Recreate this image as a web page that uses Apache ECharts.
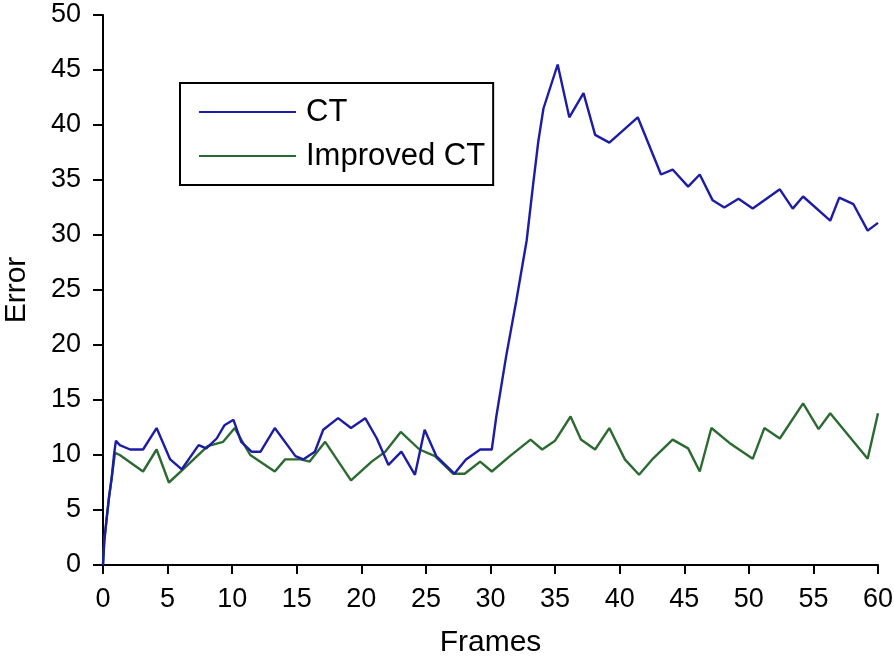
<!DOCTYPE html>
<html>
<head>
<meta charset="utf-8">
<script src="https://cdn.jsdelivr.net/npm/echarts@6/dist/echarts.min.js"></script>
<style>
html,body{margin:0;padding:0;background:#fff;}
#chart{width:894px;height:656px;}
</style>
</head>
<body>
<div id="chart"></div>
<script>
var seriesNames = ['CT', 'Improved CT'];
var xTicks = [0, 5, 10, 15, 20, 25, 30, 35, 40, 45, 50, 55, 60];
var yTicks = [0, 5, 10, 15, 20, 25, 30, 35, 40, 45, 50];

var ctData = [
  [0,0],[0.1,2.2],[0.28,4.2],[0.46,6.1],[0.67,7.9],[0.85,10.0],[1.0,11.3],[1.3,10.9],
  [2.1,10.5],[3.1,10.5],[4.15,12.45],[5.2,9.6],[6.1,8.7],[7.4,10.9],[8.0,10.6],
  [8.8,11.5],[9.4,12.7],[10.1,13.2],[10.7,11.2],[11.5,10.3],[12.2,10.3],[13.3,12.45],
  [14.9,9.9],[15.5,9.6],[16.4,10.3],[17.05,12.3],[18.2,13.35],[19.2,12.45],[20.3,13.35],
  [21.2,11.5],[22.1,9.1],[23.1,10.3],[24.15,8.2],[24.9,12.3],[25.8,9.9],[27.2,8.3],
  [28.1,9.6],[29.2,10.5],[30.1,10.5],[30.45,13.5],[31.2,18.9],[32.0,24.05],[32.8,29.5],
  [33.3,34.6],[33.7,38.5],[34.1,41.5],[35.2,45.5],[36.1,40.7],[37.2,42.9],[38.1,39.1],
  [39.2,38.4],[41.4,40.7],[43.2,35.5],[44.1,35.95],[45.3,34.4],[46.2,35.5],[47.2,33.15],
  [48.1,32.5],[49.2,33.3],[50.3,32.4],[52.4,34.15],[53.4,32.4],[54.2,33.5],[56.3,31.3],
  [57.0,33.4],[58.1,32.8],[59.2,30.4],[60.0,31.1]
];

var improvedData = [
  [0,0],[0.1,2.2],[0.28,4.2],[0.46,6.1],[0.67,7.9],[0.93,10.2],[1.3,10.0],[3.1,8.5],
  [4.15,10.5],[5.1,7.5],[6.2,8.7],[8.1,10.8],[9.3,11.2],[10.2,12.45],[10.7,11.4],
  [11.4,10.0],[13.3,8.5],[14.1,9.6],[15.3,9.6],[16.0,9.4],[17.2,11.2],[19.2,7.7],
  [20.8,9.4],[21.85,10.3],[23.05,12.1],[24.5,10.5],[25.7,9.9],[27.1,8.3],[28.0,8.3],
  [29.2,9.4],[30.1,8.5],[31.5,9.9],[33.1,11.4],[34.0,10.5],[35.0,11.3],[36.2,13.5],
  [37.0,11.4],[38.1,10.5],[39.2,12.45],[40.4,9.6],[41.5,8.2],[42.6,9.7],[44.1,11.4],
  [45.3,10.6],[46.2,8.5],[47.1,12.45],[48.5,11.1],[50.3,9.65],[51.2,12.45],[52.4,11.5],
  [54.2,14.7],[55.4,12.35],[56.3,13.8],[59.2,9.65],[60.0,13.8]
];

var FONT = "'Liberation Sans', Arial, sans-serif";
var chart = echarts.init(document.getElementById('chart'));
chart.setOption({
  animation: false,
  backgroundColor: '#fff',
  grid: { left: 103, right: 16, top: 15, bottom: 91, containLabel: false, outerBoundsMode: 'none' },
  legend: {
    orient: 'vertical',
    left: 180, top: 83,
    data: seriesNames,
    icon: 'rect',
    borderColor: '#000', borderWidth: 2,
    padding: [13, 8, 13, 19],
    itemWidth: 97, itemHeight: 2, itemGap: 12,
    textStyle: { fontFamily: FONT, fontSize: 31, color: '#000', lineHeight: 32, padding: [0, 0, 0, 5] }
  },
  xAxis: {
    type: 'value', min: 0, max: 60, interval: 5,
    name: 'Frames', nameLocation: 'middle', nameGap: 63,
    nameTextStyle: { fontFamily: FONT, fontSize: 30, color: '#000' },
    axisLine: { lineStyle: { color: '#000', width: 2 } },
    axisTick: { length: 9, lineStyle: { color: '#000', width: 2 } },
    splitLine: { show: false },
    axisLabel: {
      fontFamily: FONT, fontSize: 27, color: '#000', margin: 21,
      formatter: function (v) { return xTicks.indexOf(v) >= 0 ? String(v) : ''; }
    }
  },
  yAxis: {
    type: 'value', min: 0, max: 50, interval: 5,
    name: 'Error', nameLocation: 'middle', nameGap: 71,
    nameTextStyle: { fontFamily: FONT, fontSize: 30, color: '#000' },
    axisLine: { show: true, lineStyle: { color: '#000', width: 2 } },
    axisTick: { show: true, length: 10, lineStyle: { color: '#000', width: 2 } },
    splitLine: { show: false },
    axisLabel: {
      fontFamily: FONT, fontSize: 27, color: '#000', margin: 22,
      formatter: function (v) { return yTicks.indexOf(v) >= 0 ? String(v) : ''; }
    }
  },
  series: [
    {
      name: seriesNames[0], type: 'line', data: ctData, symbol: 'none',
      lineStyle: { color: '#1c1ca6', width: 2.4 }, itemStyle: { color: '#1c1ca6' }, z: 3
    },
    {
      name: seriesNames[1], type: 'line', data: improvedData, symbol: 'none',
      lineStyle: { color: '#2b6a30', width: 2.4 }, itemStyle: { color: '#2b6a30' }, z: 2
    }
  ]
});
</script>
</body>
</html>
